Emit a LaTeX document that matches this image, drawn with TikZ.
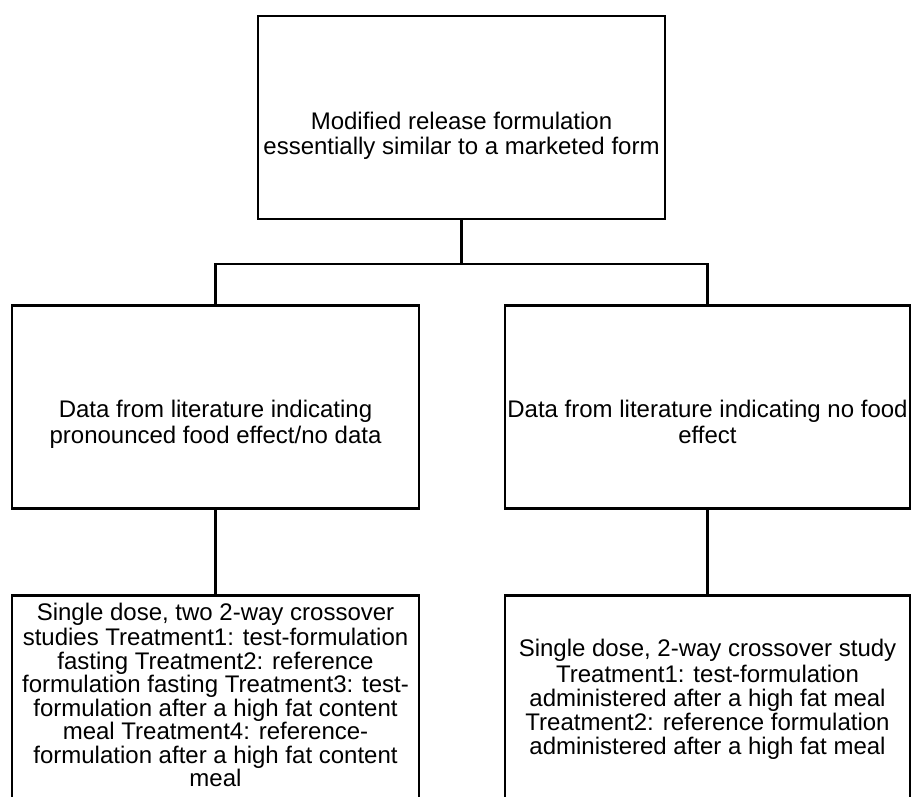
\documentclass[tikz,border=0pt]{standalone}
\usepackage{fontspec}
\setmainfont{Liberation Sans}
\begin{document}
\begin{tikzpicture}[x=1pt,y=-1pt,
  txt/.style={inner sep=0pt, align=center},
  box/.style={draw, line width=2.4pt, minimum width=407pt, minimum height=203pt, inner sep=0pt},
  link/.style={line width=2.4pt}]
\useasboundingbox (0,0) rectangle (912,796);
\clip (0,0) rectangle (912,796);

% boxes
\node[box] (top) at (461.5,117.5) {};
\node[box] (ml) at (215.5,407) {};
\node[box, minimum width=405pt] (mr) at (707.5,407) {};
\node[box] (bl) at (215.5,697) {};
\node[box, minimum width=405pt] (br) at (707.5,697) {};

% box texts (struts on the outer lines fix the block height)
\node[txt, font=\fontsize{24}{25}\selectfont] (toptext) at (461.5,136.5)
  {\strut Modified release formulation\\essentially similar to a marketed form\strut};
\node[txt, font=\fontsize{24}{24}\selectfont] (mltext) at (215.5,425.2)
  {\strut Data from literature indicating\\pronounced food effect/no data\strut};
\node[txt, font=\fontsize{24}{24}\selectfont] (mrtext) at (707.5,425.2)
  {\strut Data from literature indicating no food\\effect\strut};
\node[txt, font=\fontsize{24}{23.5}\selectfont] (bltext) at (215.5,698.5)
  {\strut Single dose, two 2-way crossover\\
   studies Treatment1: test-formulation\\
   fasting Treatment2: reference\\
   formulation fasting Treatment3: test-\\
   formulation after a high fat content\\
   meal Treatment4: reference-\\
   formulation after a high fat content\\
   meal\strut};
\node[txt, font=\fontsize{24}{24}\selectfont] (brtext) at (707.5,700.2)
  {\strut Single dose, 2-way crossover study\\
   Treatment1: test-formulation\\
   administered after a high fat meal\\
   Treatment2: reference formulation\\
   administered after a high fat meal\strut};

% connectors
\draw[link] (top.south) -- ++(0,44) coordinate (fork);
\draw[link] (ml.north) |- (fork) -| (mr.north);
\draw[link] (ml.south) -- (bl.north);
\draw[link] (mr.south) -- (br.north);
\end{tikzpicture}
\end{document}
